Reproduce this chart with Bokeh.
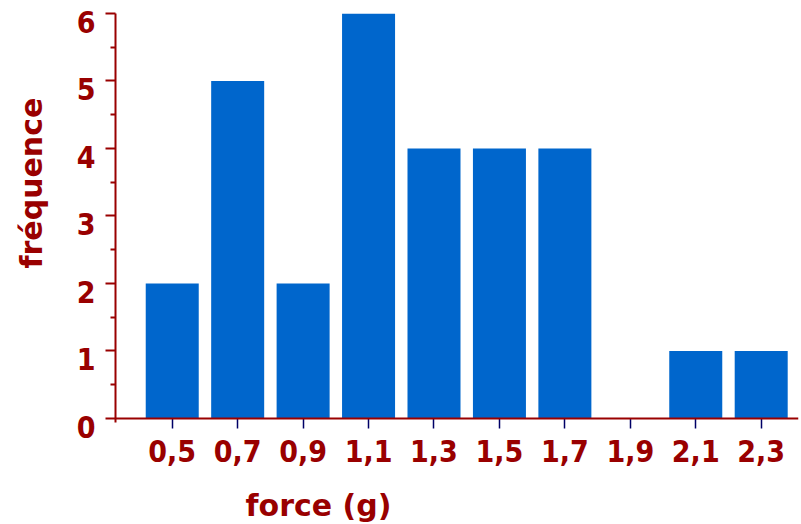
from bokeh.plotting import figure
from bokeh.models import (FixedTicker, CustomJSTickFormatter, Span, Title, Range1d)
from bokeh.embed import file_html
from bokeh.resources import INLINE

# ---- data ----
forces = [0.5, 0.7, 0.9, 1.1, 1.3, 1.5, 1.7, 1.9, 2.1, 2.3]
counts = [2, 5, 2, 6, 4, 4, 4, 0, 1, 1]
y_ticks = [0, 1, 2, 3, 4, 5, 6]
y_minor = [0.5, 1.5, 2.5, 3.5, 4.5, 5.5]
x_title = "force (g)"
y_title = "fréquence"

DARK_RED = "#990000"
BAR = "#0066CC"
NAVY = "#000066"
FONT = "DejaVu Sans"
TICK_FONT = "DejaVu Sans Condensed, DejaVu Sans"

x_rng = Range1d(0.3266, 2.414)
y_rng = Range1d(-0.0593, 6.0)

p = figure(width=801, height=524, output_backend="svg", toolbar_location=None,
           x_range=x_rng, y_range=y_rng,
           min_border_left=115, min_border_right=3, min_border_top=13,
           min_border_bottom=102)
p.outline_line_color = None
p.xgrid.visible = False
p.ygrid.visible = False
p.background_fill_color = "white"
p.border_fill_color = "white"

p.vbar(x=forces, top=counts, width=0.162, bottom=0, fill_color=BAR, line_color=None)

# x axis baseline at y=0
p.add_layout(Span(location=0, dimension="width", line_color=DARK_RED, line_width=2))

xa = p.xaxis[0]
xa.ticker = FixedTicker(ticks=forces, minor_ticks=[])
xa.formatter = CustomJSTickFormatter(code="return tick.toFixed(1).replace('.', ',');")
xa.axis_line_color = None
xa.major_tick_line_color = NAVY
xa.major_tick_line_width = 1.5
xa.major_tick_in = 4
xa.major_tick_out = 6
xa.minor_tick_line_color = None
xa.major_label_text_color = DARK_RED
xa.major_label_text_font = TICK_FONT
xa.major_label_text_font_style = "bold"
xa.major_label_text_font_size = "30px"
xa.major_label_standoff = 11

ya = p.yaxis[0]
ya.ticker = FixedTicker(ticks=y_ticks, minor_ticks=y_minor)
# labels sit a little below their tick, as in the reference
ya.formatter = CustomJSTickFormatter(code="return tick.toFixed(0) + '\\n';")
ya.axis_line_color = DARK_RED
ya.axis_line_width = 2
ya.major_tick_line_color = DARK_RED
ya.major_tick_line_width = 2
ya.major_tick_in = 0
ya.major_tick_out = 10
ya.minor_tick_line_color = DARK_RED
ya.minor_tick_line_width = 2
ya.minor_tick_in = 0
ya.minor_tick_out = 5
ya.major_label_text_color = DARK_RED
ya.major_label_text_font = TICK_FONT
ya.major_label_text_font_style = "bold"
ya.major_label_text_font_size = "30px"
ya.major_label_text_line_height = -0.5
ya.major_label_standoff = 10

# axis titles, placed off-centre as in the reference (an empty extra line
# pushes each title away from its axis)
p.add_layout(Title(text="\n" + x_title, align="left", offset=130, standoff=0,
                   vertical_align="bottom", text_line_height=0.6,
                   text_color=DARK_RED, text_font=FONT,
                   text_font_style="bold", text_font_size="30px"), "below")
p.add_layout(Title(text=y_title + "\n", align="left", offset=154, standoff=0,
                   vertical_align="bottom", text_line_height=0.7,
                   text_color=DARK_RED, text_font=FONT,
                   text_font_style="bold", text_font_size="30px"), "left")

open("out.html", "w").write(file_html(p, INLINE))
